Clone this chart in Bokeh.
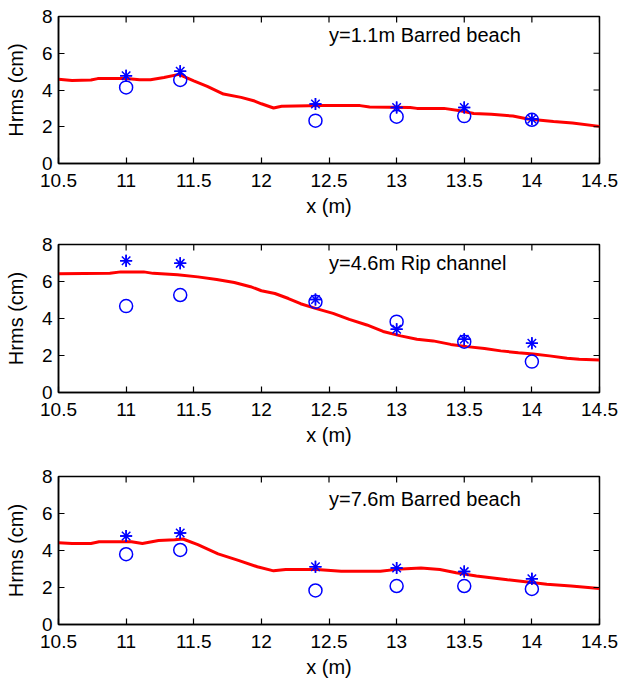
import math
from bokeh.plotting import figure
from bokeh.layouts import column
from bokeh.models import Range1d, FixedTicker, Label
from bokeh.embed import file_html
from bokeh.resources import INLINE

# ---------------- data ----------------
x_meas = [11.0, 11.4, 12.4, 13.0, 13.5, 14.0]

# panel 1: y=1.1m Barred beach
p1_star = [4.78, 5.02, 3.24, 3.05, 3.05, 2.42]
p1_circ = [4.14, 4.55, 2.33, 2.55, 2.58, 2.38]
p1_mx = [10.5, 10.6, 10.74, 10.79, 11.0, 11.1, 11.18, 11.28, 11.39, 11.5, 11.6, 11.72,
         11.85, 11.95, 12.0, 12.09, 12.15, 12.45, 12.73, 12.8, 13.1, 13.15, 13.35,
         13.47, 13.57, 13.7, 13.86, 13.97, 14.16, 14.3, 14.5]
p1_my = [4.58, 4.52, 4.54, 4.62, 4.62, 4.56, 4.56, 4.68, 4.85, 4.5, 4.2, 3.78,
         3.6, 3.4, 3.25, 3.02, 3.12, 3.15, 3.15, 3.07, 3.05, 3.0, 3.0,
         2.87, 2.72, 2.68, 2.58, 2.42, 2.29, 2.2, 2.02]

# panel 2: y=4.6m Rip channel
p2_star = [7.12, 6.98, 5.03, 3.42, 2.88, 2.66]
p2_circ = [4.67, 5.27, 4.9, 3.83, 2.75, 1.67]
p2_mx = [10.5, 10.88, 10.96, 11.13, 11.2, 11.38, 11.53, 11.67, 11.8, 11.92, 12.0, 12.1,
         12.2, 12.29, 12.4, 12.53, 12.65, 12.78, 12.9, 13.03, 13.15, 13.27, 13.4,
         13.52, 13.65, 13.77, 13.9, 14.01, 14.13, 14.26, 14.35, 14.5]
p2_my = [6.42, 6.44, 6.52, 6.52, 6.44, 6.36, 6.25, 6.11, 5.95, 5.72, 5.5, 5.35,
         5.08, 4.8, 4.55, 4.28, 3.95, 3.65, 3.3, 3.06, 2.88, 2.79, 2.6,
         2.48, 2.38, 2.25, 2.15, 2.08, 1.98, 1.85, 1.8, 1.76]

# panel 3: y=7.6m Barred beach
p3_star = [4.78, 4.95, 3.12, 3.05, 2.86, 2.47]
p3_circ = [3.8, 4.03, 1.84, 2.08, 2.08, 1.92]
p3_mx = [10.5, 10.6, 10.74, 10.8, 11.04, 11.12, 11.24, 11.36, 11.42, 11.53, 11.68,
         11.83, 11.97, 12.09, 12.18, 12.41, 12.59, 12.88, 13.0, 13.18, 13.32, 13.44,
         13.59, 13.82, 14.0, 14.11, 14.29, 14.5]
p3_my = [4.42, 4.38, 4.38, 4.47, 4.47, 4.38, 4.54, 4.58, 4.62, 4.32, 3.82,
         3.47, 3.12, 2.9, 2.97, 2.97, 2.88, 2.88, 2.98, 3.06, 2.97, 2.8,
         2.62, 2.42, 2.27, 2.17, 2.08, 1.94]

titles = ["y=1.1m Barred beach", "y=4.6m Rip channel", "y=7.6m Barred beach"]

x_ticks = [10.5, 11, 11.5, 12, 12.5, 13, 13.5, 14, 14.5]
x_tick_labels = ["10.5", "11", "11.5", "12", "12.5", "13", "13.5", "14", "14.5"]
y_ticks = [0, 2, 4, 6, 8]
y_tick_labels = ["0", "2", "4", "6", "8"]

panels = [
    (p1_mx, p1_my, p1_star, p1_circ, titles[0], 7.0),
    (p2_mx, p2_my, p2_star, p2_circ, titles[1], 7.0),
    (p3_mx, p3_my, p3_star, p3_circ, titles[2], 6.8),
]

FONT = "Liberation Sans"
heights = [232, 232, 220]
tops = [16, 12, 12]
bottoms = [69, 72, 60]

figs = []
for i, (mx, my, st, ci, ttl, ty) in enumerate(panels):
    p = figure(width=619, height=heights[i], output_backend="svg", toolbar_location=None,
               x_range=Range1d(x_ticks[0], x_ticks[-1]), y_range=Range1d(y_ticks[0], y_ticks[-1]),
               min_border_left=58, min_border_right=20,
               min_border_top=tops[i], min_border_bottom=bottoms[i],
               background_fill_color="white", border_fill_color="white")
    p.xgrid.visible = False
    p.ygrid.visible = False
    p.outline_line_color = "black"
    p.outline_line_width = 1.5

    p.line(mx, my, line_color="#ff0000", line_width=3)
    p.scatter(x_meas, ci, marker="circle", size=13, fill_color=None,
              line_color="#0000ff", line_width=1.5)
    p.scatter(x_meas, st, marker="asterisk", size=12, line_color="#0000ff", line_width=1.5)
    p.scatter(x_meas, st, marker="cross", size=12, line_color="#0000ff", line_width=1.5)

    # inward ticks on the top and right edges of the box
    p.ray(x=x_ticks, y=[y_ticks[-1]] * len(x_ticks), length=6, length_units="screen",
          angle=-math.pi / 2, line_color="black", line_width=1.2)
    p.ray(x=[x_ticks[-1]] * len(y_ticks), y=y_ticks, length=6, length_units="screen",
          angle=math.pi, line_color="black", line_width=1.2)

    for ax in (p.xaxis[0], p.yaxis[0]):
        ax.major_tick_in = 6
        ax.major_tick_out = 0
        ax.minor_tick_in = 0
        ax.minor_tick_out = 0
        ax.axis_line_width = 1.5
        ax.major_tick_line_width = 1.2
        ax.major_label_text_font = FONT
        ax.major_label_text_font_size = "19px"
        ax.major_label_text_color = "black"
        ax.axis_label_text_font = FONT
        ax.axis_label_text_font_size = "20px"
        ax.axis_label_text_font_style = "normal"
        ax.axis_label_text_color = "black"
    p.xaxis[0].ticker = FixedTicker(ticks=x_ticks)
    p.yaxis[0].ticker = FixedTicker(ticks=y_ticks)
    p.xaxis[0].major_label_overrides = {t: l for t, l in zip(x_ticks, x_tick_labels)}
    p.yaxis[0].major_label_overrides = {t: l for t, l in zip(y_ticks, y_tick_labels)}
    p.xaxis[0].axis_label = "x (m)"
    p.yaxis[0].axis_label = "Hrms (cm)"
    p.xaxis[0].major_label_standoff = 10
    p.xaxis[0].axis_label_standoff = 5
    p.yaxis[0].major_label_standoff = 6
    p.yaxis[0].axis_label_standoff = 12

    p.add_layout(Label(x=12.5, y=ty, text=ttl, text_font=FONT, text_font_size="20px",
                       text_baseline="middle", text_align="left", text_color="black"))
    figs.append(p)

layout = column(*figs, spacing=0)
open("out.html", "w").write(file_html(layout, INLINE))
